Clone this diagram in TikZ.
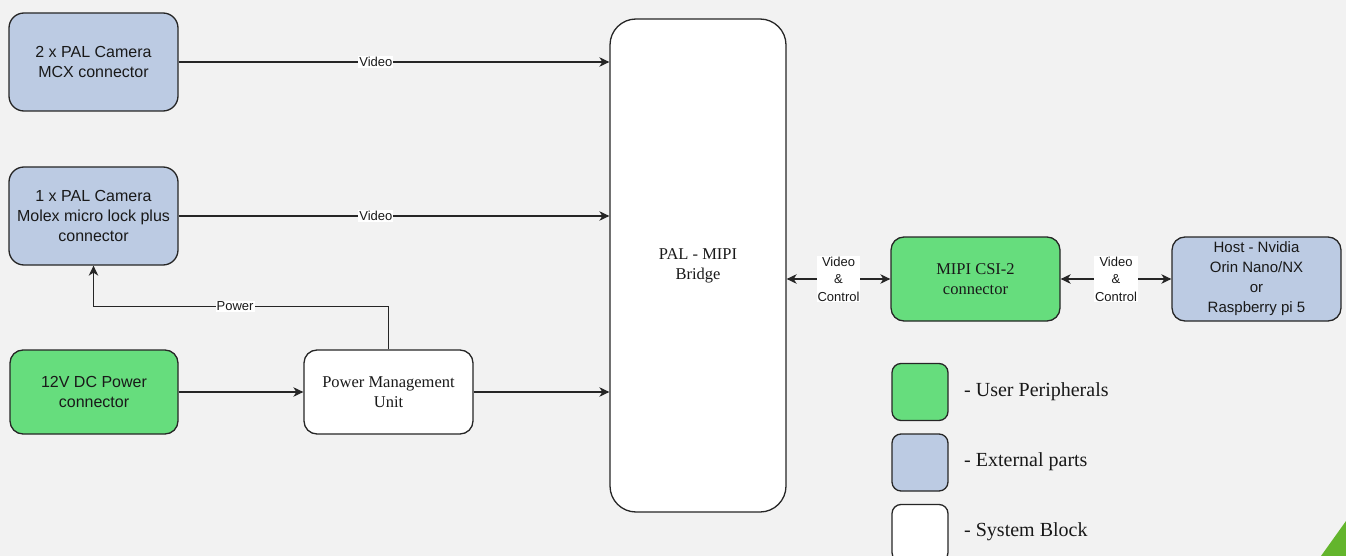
\documentclass[tikz,border=0pt]{standalone}
\usepackage{fontspec}
\setmainfont{Liberation Serif}
\newfontfamily\arialf{Liberation Sans}
\usetikzlibrary{arrows.meta}
\definecolor{bgc}{HTML}{F2F2F2}
\definecolor{ugreen}{HTML}{66DD7D}
\definecolor{eblue}{HTML}{BCCBE3}
\definecolor{linec}{HTML}{262626}
\definecolor{cornergreen}{HTML}{63B52C}
\begin{document}
\begin{tikzpicture}[x=1pt,y=-1pt,
  blk/.style={draw=linec, line width=1.3pt, rectangle, inner sep=0pt, align=center, text=black!90},
  sanstxt/.style={font=\arialf\fontsize{16}{20}\selectfont},
  seriftxt/.style={font=\fontsize{16.5}{20}\selectfont},
  hosttxt/.style={font=\arialf\fontsize{15}{20}\selectfont},
  lbl/.style={fill=white, inner sep=1pt, text=black!90, font=\arialf\fontsize{13}{17.5}\selectfont, align=center},
  legtxt/.style={anchor=west, inner sep=0pt, text=black!90, font=\fontsize{20}{24}\selectfont},
  tip/.style={Stealth[length=10pt,width=9.5pt,inset=3pt]},
  conn/.style={draw=linec, line width=1.3pt, -{Stealth[length=10pt,width=9.5pt,inset=3pt]}},
  biconn/.style={draw=linec, line width=1.3pt, {Stealth[length=10pt,width=9.5pt,inset=3pt]}-{Stealth[length=10pt,width=9.5pt,inset=3pt]}}
]
\fill[bgc] (0,0) rectangle (1346,556);
\useasboundingbox (0,0) rectangle (1346,556);
\fill[cornergreen] (1321,556) -- (1346,521) -- (1346,556) -- cycle;

% blocks
\node[blk, sanstxt, fill=eblue, minimum width=169, minimum height=98, rounded corners=15] (cam1) at (93.5,62) {2 x PAL Camera\\MCX connector};
\node[blk, sanstxt, fill=eblue, minimum width=169, minimum height=98, rounded corners=15] (cam2) at (93.5,216) {1 x PAL Camera\\Molex micro lock plus\\connector};
\node[blk, sanstxt, fill=ugreen, minimum width=168, minimum height=84, rounded corners=13] (dc) at (94,392) {12V DC Power\\connector};
\node[blk, seriftxt, fill=white, minimum width=169, minimum height=84, rounded corners=13] (pmu) at (388.5,392) {Power Management\\Unit};
\node[blk, seriftxt, fill=white, minimum width=176, minimum height=493, rounded corners=26] (bridge) at (698,265.5) {PAL - MIPI\\Bridge};
\node[blk, seriftxt, fill=ugreen, minimum width=169, minimum height=84, rounded corners=13] (mipi) at (975.5,279) {MIPI CSI-2\\connector};
\node[blk, hosttxt, fill=eblue, minimum width=169, minimum height=84, rounded corners=13] (host) at (1256.5,279) {Host - Nvidia\\Orin Nano/NX\\or\\Raspberry pi 5};

% legend
\node[blk, fill=ugreen, minimum width=56, minimum height=57, rounded corners=9] (lg1) at (920,392) {};
\node[blk, fill=eblue, minimum width=56, minimum height=57, rounded corners=9] (lg2) at (920,462.5) {};
\node[blk, fill=white, minimum width=56, minimum height=57, rounded corners=9] (lg3) at (920,533) {};
\node[legtxt] (lt1) at (964,392) {- User Peripherals};
\node[legtxt] (lt2) at (964,462) {- External parts};
\node[legtxt] (lt3) at (964,532) {- System Block};

% connectors
\draw[conn] (cam1.east) -- (cam1.east -| bridge.west) node[lbl, pos=0.458] {Video};
\draw[conn] (cam2.east) -- (cam2.east -| bridge.west) node[lbl, pos=0.458] {Video};
\draw[conn] (dc) -- (pmu);
\draw[conn] (pmu) -- (pmu -| bridge.west);
\draw[conn] (pmu.north) -- ++(0,-43) coordinate (pc) -- (pc -| cam2.south) node[lbl, pos=0.52] {Power} -- (cam2.south);
\draw[biconn] (bridge.east |- mipi.west) -- (mipi.west) node[lbl, midway] {Video\\\&\\Control};
\draw[biconn] (mipi.east) -- (host.west) node[lbl, midway] {Video\\\&\\Control};
\end{tikzpicture}
\end{document}
